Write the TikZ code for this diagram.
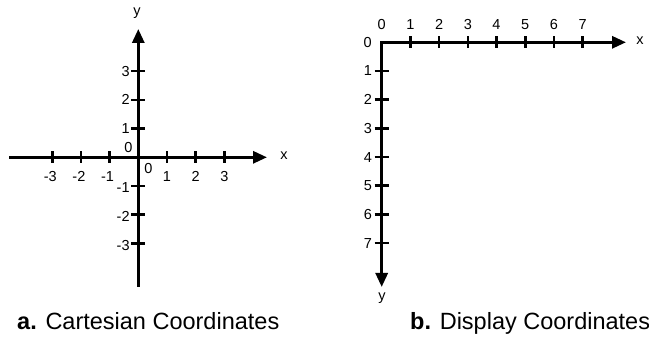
\documentclass[tikz,border=0pt]{standalone}
\usepackage{fontspec}
\setmainfont{Liberation Sans}
\usetikzlibrary{arrows.meta,calc}
\tikzset{
  axisline/.style={line width=3pt, -{Triangle[length=14pt,width=12pt]}},
  tickmark/.style={line width=2.6pt},
  lbl/.style={inner sep=0pt, font=\fontsize{14.5}{14.5}\selectfont},
  axlbl/.style={inner sep=0pt, font=\fontsize{14.5}{14.5}\selectfont},
  captxt/.style={inner sep=0pt, anchor=base west, font=\fontsize{23.5}{23.5}\selectfont}
}
\begin{document}
\begin{tikzpicture}[x=1pt,y=-1pt]
\useasboundingbox (0,0) rectangle (649,339);
% ---------- a. Cartesian ----------
\coordinate (O) at (138.3,157.3);
\coordinate (xl) at (9,157.3);
\coordinate (xr) at (267,157.3);
\coordinate (yt) at (138.3,29);
\coordinate (yb) at (138.3,287);
\draw[axisline] (xl) -- (xr);
\draw[axisline] (yb) -- (yt);
\foreach \i in {-3,-2,-1,1,2,3}{
  \draw[tickmark] ($(O)+(\i*28.7,-6)$) -- ($(O)+(\i*28.7,6)$);
  \draw[tickmark] ($(O)+(-7,-\i*28.7)$) -- ($(O)+(7,-\i*28.7)$);
}
\foreach \i in {-3,-2,-1}{
  \node[lbl] at ($(O)+(\i*28.7-2,19.5)$) {\i};
  \node[lbl,anchor=east] at ($(O)+(-8.5,-\i*28.7+2)$) {\i};
}
\foreach \i in {1,2,3}{
  \node[lbl] at ($(O)+(\i*28.7,19.5)$) {\i};
  \node[lbl,anchor=east] at ($(O)+(-8.5,-\i*28.7)$) {\i};
}
\node[lbl] (o1) at ($(O)+(-10,-10)$) {0};
\node[lbl] (o2) at ($(O)+(10,11)$) {0};
\node[axlbl] (ya) at (137,13) {y};
\node[axlbl] (xa) at (284,156) {x};
\node[captxt] (ca) at (17,330) {\textbf{a.} Cartesian Coordinates};
% ---------- b. Display ----------
\coordinate (P) at (381.7,42.3);
\coordinate (px) at (626,42.3);
\coordinate (py) at (381.7,287);
\draw[line width=3pt, {Triangle[length=14pt,width=12pt]}-{Triangle[length=14pt,width=12pt]}] (py) -- (P) -- (px);
\foreach \i in {1,...,7}{
  \draw[tickmark] ($(P)+(\i*28.7,-6)$) -- ($(P)+(\i*28.7,6)$);
  \draw[tickmark] ($(P)+(-7,\i*28.7)$) -- ($(P)+(7,\i*28.7)$);
  \node[lbl] at ($(P)+(\i*28.7,-17.5)$) {\i};
  \node[lbl,anchor=east] at ($(P)+(-9.5,\i*28.7)$) {\i};
}
\node[lbl] (p0t) at ($(P)+(0,-17.5)$) {0};
\node[lbl] (p0l) at ($(P)+(-14,0)$) {0};
\node[axlbl] (xb) at (640,41) {x};
\node[axlbl] (yb2) at (382,298) {y};
\node[captxt] (cb) at (410,330) {\textbf{b.} Display Coordinates};
\end{tikzpicture}
\end{document}
